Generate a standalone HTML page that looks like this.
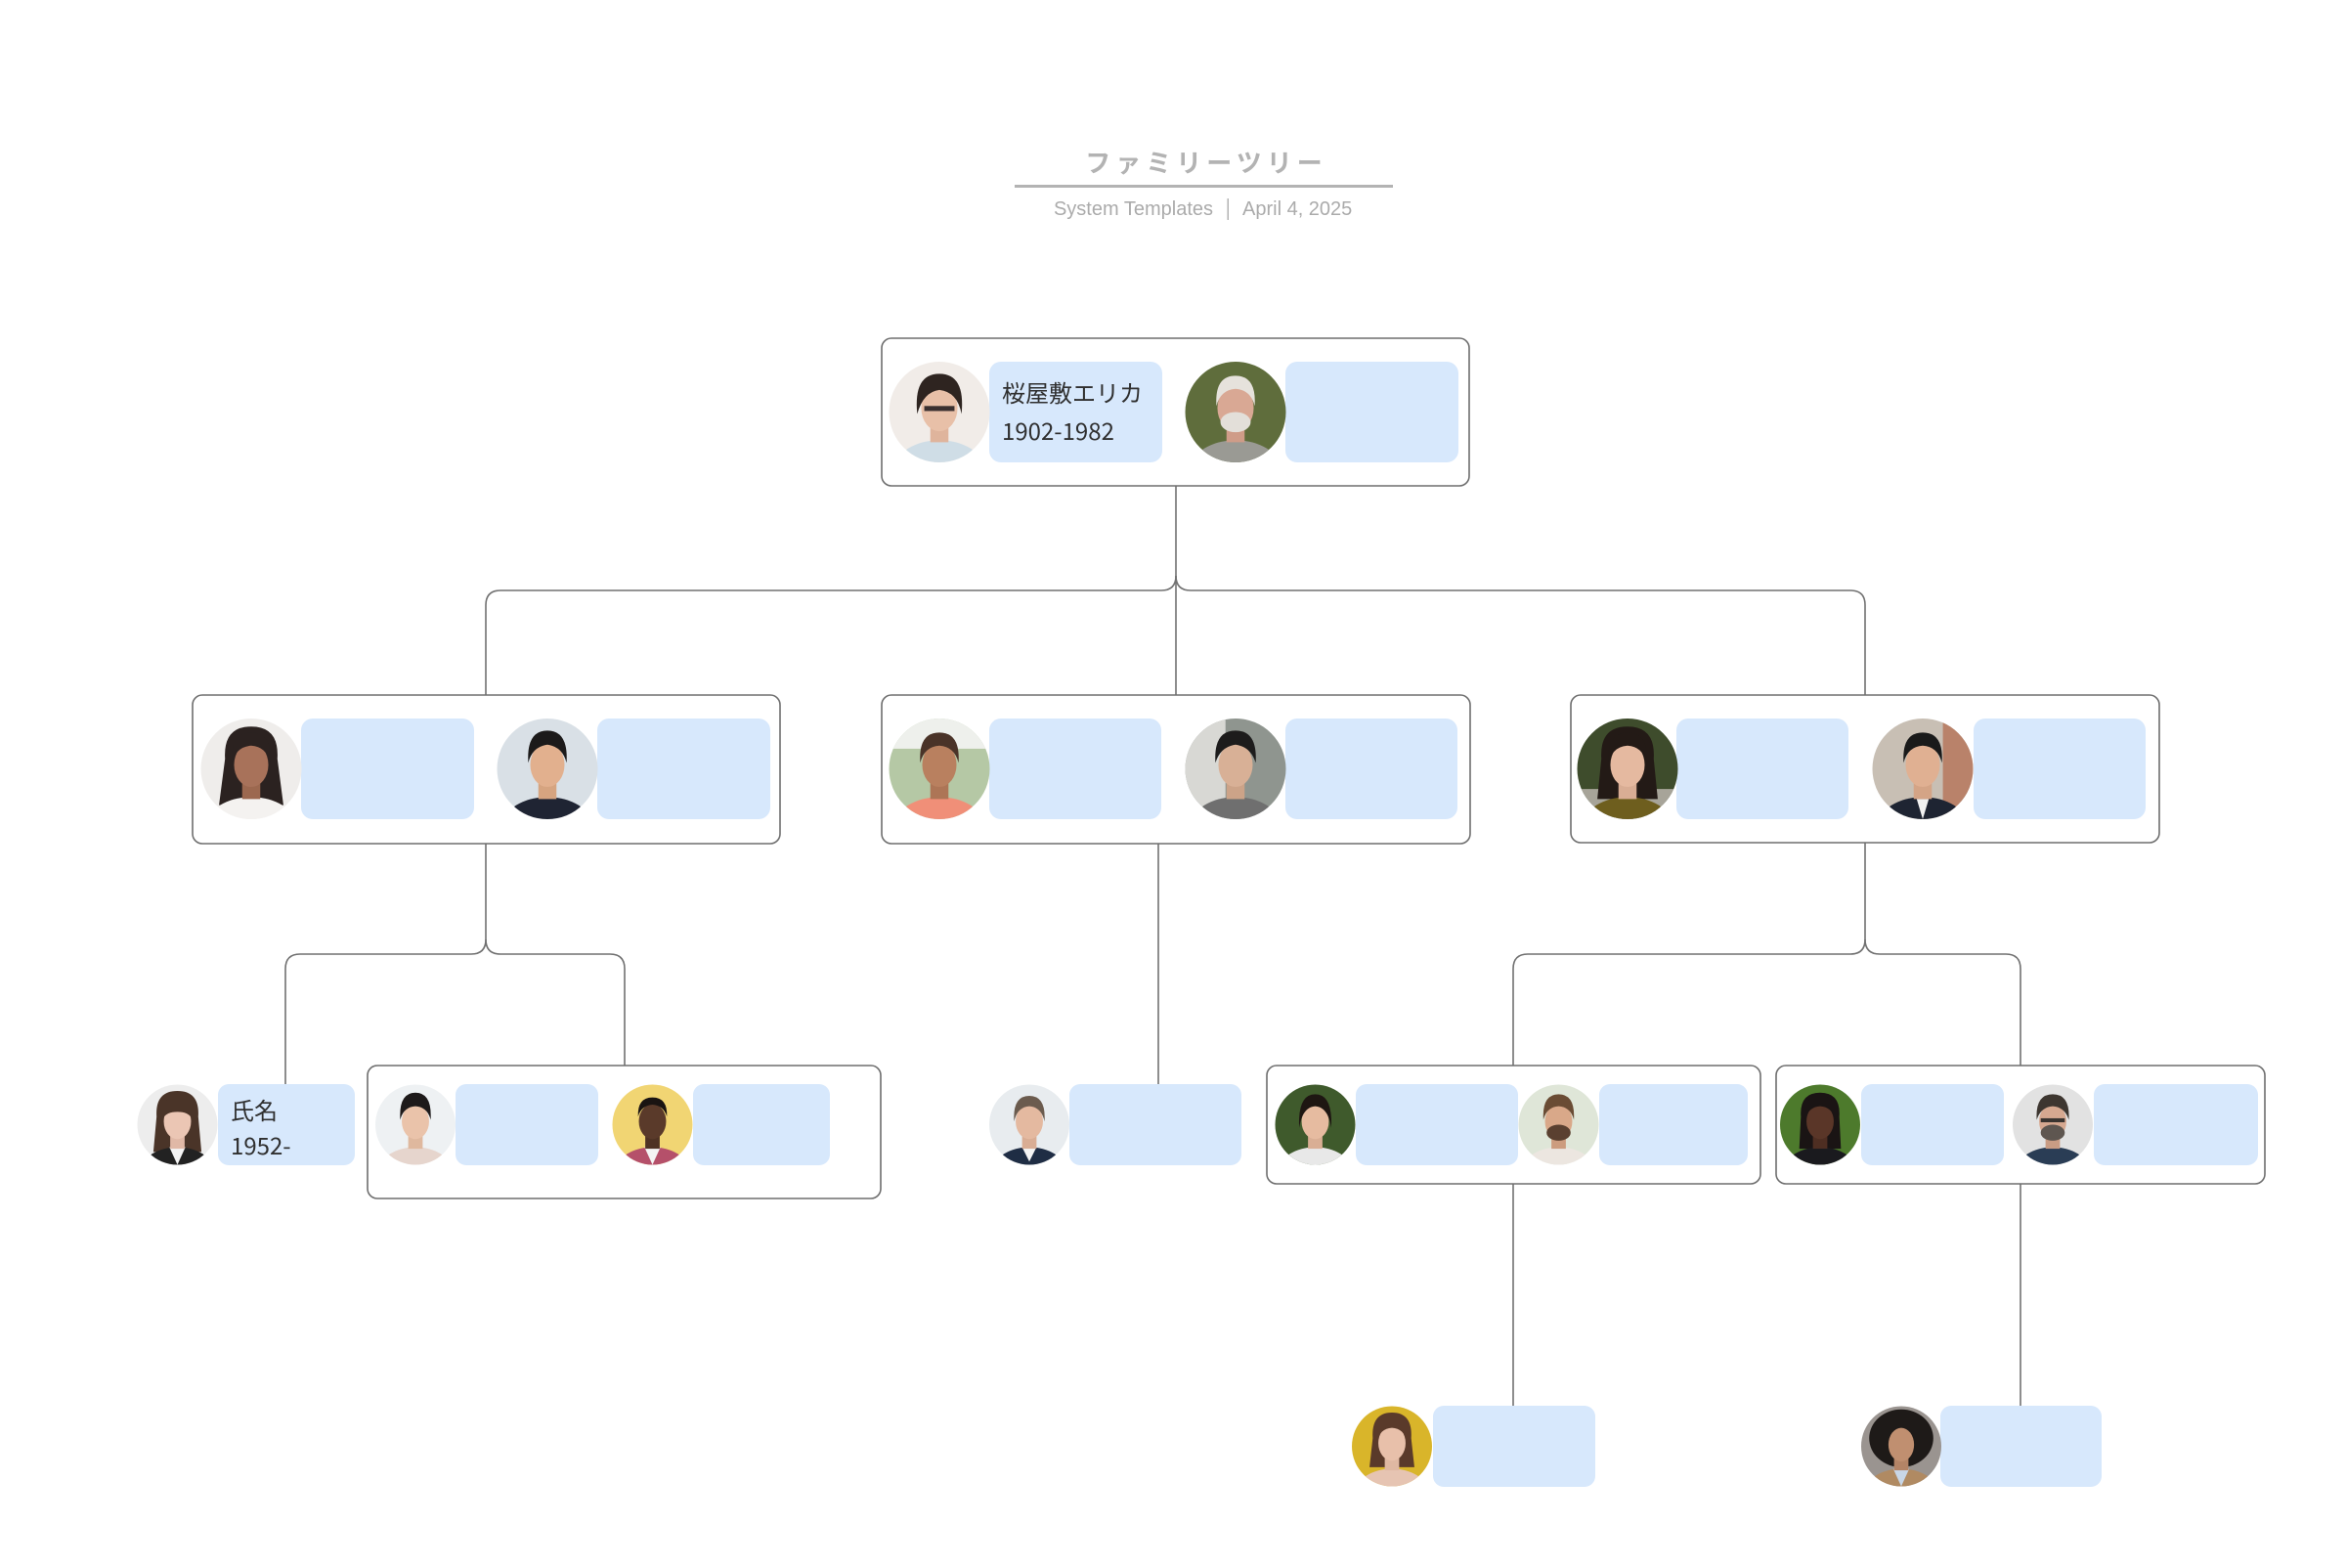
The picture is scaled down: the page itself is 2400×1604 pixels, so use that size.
<!DOCTYPE html>
<html>
<head>
<meta charset="utf-8">
<style>
html,body{margin:0;padding:0;background:#fff;}
svg{display:block;}
</style>
</head>
<body>
<svg width="2400" height="1604" viewBox="0 0 2400 1604" xmlns="http://www.w3.org/2000/svg">
<defs>
<clipPath id="cc" clipPathUnits="userSpaceOnUse"><circle cx="0" cy="0" r="50"/></clipPath>
</defs>
<rect width="2400" height="1604" fill="#fff"/>

<!-- Title -->
<text x="1234" y="176" text-anchor="middle" font-family="'Liberation Sans','Noto Sans CJK JP',sans-serif" font-size="26" font-weight="bold" fill="#b3b3b3" letter-spacing="5">ファミリーツリー</text>
<rect x="1038" y="189" width="387" height="3" fill="#b3b3b3"/>
<text x="1241" y="220" text-anchor="end" font-family="'Liberation Sans',sans-serif" font-size="20" fill="#ababab">System Templates</text>
<rect x="1255.5" y="203" width="1.5" height="22" fill="#b3b3b3"/>
<text x="1271" y="220" font-family="'Liberation Sans',sans-serif" font-size="20" fill="#ababab">April 4, 2025</text>

<!-- Connectors -->
<g fill="none" stroke="#717171" stroke-width="1.6">
<path d="M1203 497 V711"/>
<path d="M1203 589 Q1203 604 1188 604 H512 Q497 604 497 619 V711"/>
<path d="M1203 589 Q1203 604 1218 604 H1893 Q1908 604 1908 619 V711"/>
<path d="M497 863 V961 Q497 976 482 976 H307 Q292 976 292 991 V1109"/>
<path d="M497 961 Q497 976 512 976 H624 Q639 976 639 991 V1090"/>
<path d="M1185 863 V1109"/>
<path d="M1908 862 V961 Q1908 976 1893 976 H1563 Q1548 976 1548 991 V1090"/>
<path d="M1908 961 Q1908 976 1923 976 H2052 Q2067 976 2067 991 V1090"/>
<path d="M1548 1211 V1438"/>
<path d="M2067 1211 V1438"/>
</g>

<!-- Boxes -->
<g fill="#fff" stroke="#6e6e6e" stroke-width="1.6">
<rect x="902" y="346" width="601" height="151" rx="10"/>
<rect x="197" y="711" width="601" height="152" rx="10"/>
<rect x="902" y="711" width="602" height="152" rx="10"/>
<rect x="1607" y="711" width="602" height="151" rx="10"/>
<rect x="376" y="1090" width="525" height="136" rx="10"/>
<rect x="1296" y="1090" width="505" height="121" rx="10"/>
<rect x="1817" y="1090" width="500" height="121" rx="10"/>
</g>

<!-- Blue name rects -->
<g fill="#d7e8fc">
<rect x="1012" y="370" width="177" height="103" rx="12"/>
<rect x="1315" y="370" width="177" height="103" rx="12"/>
<rect x="308" y="735" width="177" height="103" rx="12"/>
<rect x="611" y="735" width="177" height="103" rx="12"/>
<rect x="1012" y="735" width="176" height="103" rx="12"/>
<rect x="1315" y="735" width="176" height="103" rx="12"/>
<rect x="1715" y="735" width="176" height="103" rx="12"/>
<rect x="2019" y="735" width="176" height="103" rx="12"/>
<rect x="223" y="1109" width="140" height="83" rx="11"/>
<rect x="466" y="1109" width="146" height="83" rx="11"/>
<rect x="709" y="1109" width="140" height="83" rx="11"/>
<rect x="1094" y="1109" width="176" height="83" rx="11"/>
<rect x="1387" y="1109" width="166" height="83" rx="11"/>
<rect x="1636" y="1109" width="152" height="83" rx="11"/>
<rect x="1904" y="1109" width="146" height="83" rx="11"/>
<rect x="2142" y="1109" width="168" height="83" rx="11"/>
<rect x="1466" y="1438" width="166" height="83" rx="11"/>
<rect x="1985" y="1438" width="165" height="83" rx="11"/>
</g>

<!-- Texts -->
<g font-family="'Liberation Sans','Noto Sans CJK JP',sans-serif" font-size="24" fill="#2f2f2f">
<text x="1025" y="411" font-family="'Noto Sans CJK JP',sans-serif">桜屋敷エリカ</text>
<text x="1025" y="450" font-family="'Noto Sans CJK JP',sans-serif">1902-1982</text>
<text x="236" y="1145" font-family="'Noto Sans CJK JP',sans-serif">氏名</text>
<text x="236" y="1181" font-family="'Noto Sans CJK JP',sans-serif">1952-</text>
</g>

<!-- Avatars -->
<g transform="translate(961 421.5) scale(1.03)"><g clip-path="url(#cc)">
<rect x="-50" y="-50" width="100" height="100" fill="#f1ece8"/>
<ellipse cx="0" cy="56" rx="44" ry="28" fill="#cfdde6"/>
<rect x="-9" y="8" width="18" height="22" fill="#dfb49c"/>
<ellipse cx="0" cy="-4" rx="18" ry="23" fill="#e8c0a8"/>
<path d="M-22 2 Q-26 -38 0 -38 Q26 -38 22 2 Q18 -20 0 -22 Q-16 -20 -22 2Z" fill="#2e2420"/>
<rect x="-15" y="-6" width="30" height="5" fill="#3a3030"/>
</g></g>
<g transform="translate(1264 421.5) scale(1.03)"><g clip-path="url(#cc)">
<rect x="-50" y="-50" width="100" height="100" fill="#5f6d3c"/>
<ellipse cx="0" cy="56" rx="44" ry="28" fill="#9a9a94"/>
<rect x="-9" y="8" width="18" height="22" fill="#cf9c88"/>
<ellipse cx="0" cy="-4" rx="18" ry="23" fill="#d9a894"/>
<ellipse cx="0" cy="10" rx="15" ry="10" fill="#e3dfd9"/>
<path d="M-19 -6 Q-21 -36 0 -36 Q21 -36 19 -6 Q15 -22 0 -23 Q-15 -22 -19 -6Z" fill="#e6e2dc"/>
</g></g>
<g transform="translate(257 786.5) scale(1.03)"><g clip-path="url(#cc)">
<rect x="-50" y="-50" width="100" height="100" fill="#efedeb"/>
<path d="M-26 -10 Q-28 -42 0 -42 Q28 -42 26 -10 L32 36 L-32 36Z" fill="#2b2220"/>
<ellipse cx="0" cy="56" rx="44" ry="28" fill="#f4f2f0"/>
<rect x="-9" y="8" width="18" height="22" fill="#9c684f"/>
<ellipse cx="0" cy="-4" rx="17" ry="22" fill="#a8725a"/>
<path d="M-19 -6 Q-21 -36 0 -36 Q21 -36 19 -6 Q15 -22 0 -23 Q-15 -22 -19 -6Z" fill="#2b2220"/>
</g></g>
<g transform="translate(560 786.5) scale(1.03)"><g clip-path="url(#cc)">
<rect x="-50" y="-50" width="100" height="100" fill="#d9e0e6"/>
<ellipse cx="0" cy="56" rx="44" ry="28" fill="#1f2433"/>
<rect x="-9" y="8" width="18" height="22" fill="#d6a480"/>
<ellipse cx="0" cy="-4" rx="17" ry="22" fill="#e2b08e"/>
<path d="M-19 -6 Q-21 -38 0 -38 Q21 -38 19 -6 Q15 -22 0 -24 Q-15 -22 -19 -6Z" fill="#1c1a1a"/>
</g></g>
<g transform="translate(961 786.5) scale(1.03)"><g clip-path="url(#cc)">
<rect x="-50" y="-50" width="100" height="100" fill="#b5c8a5"/>
<rect x="-50" y="-50" width="100" height="30" fill="#eef0ec"/>
<ellipse cx="0" cy="56" rx="44" ry="28" fill="#f08f78"/>
<rect x="-9" y="8" width="18" height="22" fill="#ad7556"/>
<ellipse cx="0" cy="-4" rx="17" ry="22" fill="#b9805f"/>
<path d="M-19 -6 Q-21 -36 0 -36 Q21 -36 19 -6 Q15 -22 0 -23 Q-15 -22 -19 -6Z" fill="#4a3328"/>
</g></g>
<g transform="translate(1264 786.5) scale(1.03)"><g clip-path="url(#cc)">
<rect x="-50" y="-50" width="100" height="100" fill="#8f958f"/>
<rect x="-50" y="-50" width="40" height="100" fill="#d8d8d4"/>
<ellipse cx="0" cy="56" rx="44" ry="28" fill="#6f6f6f"/>
<rect x="-9" y="8" width="18" height="22" fill="#cca388"/>
<ellipse cx="0" cy="-4" rx="17" ry="22" fill="#d8b096"/>
<path d="M-20 -6 Q-22 -38 0 -38 Q22 -38 20 -6 Q15 -22 0 -24 Q-15 -22 -20 -6Z" fill="#1d1c1c"/>
</g></g>
<g transform="translate(1665 786.5) scale(1.03)"><g clip-path="url(#cc)">
<rect x="-50" y="-50" width="100" height="100" fill="#3e4c2c"/>
<rect x="-50" y="20" width="100" height="30" fill="#a7a499"/>
<path d="M-26 -10 Q-28 -42 0 -42 Q28 -42 26 -10 L30 30 L-30 30Z" fill="#231a16"/>
<ellipse cx="0" cy="56" rx="44" ry="28" fill="#6e5e1e"/>
<rect x="-9" y="8" width="18" height="22" fill="#d9ad94"/>
<ellipse cx="0" cy="-4" rx="17" ry="22" fill="#e5b9a0"/>
<path d="M-19 -6 Q-21 -36 0 -36 Q21 -36 19 -6 Q15 -22 0 -23 Q-15 -22 -19 -6Z" fill="#231a16"/>
</g></g>
<g transform="translate(1967 786.5) scale(1.03)"><g clip-path="url(#cc)">
<rect x="-50" y="-50" width="100" height="100" fill="#c8bfb4"/>
<rect x="20" y="-50" width="30" height="100" fill="#b9826a"/>
<ellipse cx="0" cy="56" rx="44" ry="28" fill="#1e2432"/>
<path d="M-6 30 L0 50 L6 30Z" fill="#f2f2f2"/>
<rect x="-9" y="8" width="18" height="22" fill="#d4a486"/>
<ellipse cx="0" cy="-4" rx="17" ry="22" fill="#e0b092"/>
<path d="M-19 -6 Q-21 -36 0 -36 Q21 -36 19 -6 Q15 -22 0 -23 Q-15 -22 -19 -6Z" fill="#1a1a1a"/>
</g></g>
<g transform="translate(181.5 1150.5) scale(0.82)"><g clip-path="url(#cc)">
<rect x="-50" y="-50" width="100" height="100" fill="#ededed"/>
<path d="M-26 -10 Q-28 -42 0 -42 Q28 -42 26 -10 L30 34 L-30 34Z" fill="#4a3428"/>
<ellipse cx="0" cy="56" rx="44" ry="28" fill="#222"/>
<path d="M-10 28 L0 50 L10 28Z" fill="#f4f4f4"/>
<rect x="-9" y="8" width="18" height="22" fill="#e0b8a6"/>
<ellipse cx="0" cy="-4" rx="17" ry="22" fill="#ebc6b4"/>
<path d="M-19 -6 Q-21 -36 0 -36 Q21 -36 19 -6 Q15 -16 0 -16 Q-15 -16 -19 -6Z" fill="#4a3428"/>
</g></g>
<g transform="translate(425 1150.5) scale(0.82)"><g clip-path="url(#cc)">
<rect x="-50" y="-50" width="100" height="100" fill="#eef1f3"/>
<ellipse cx="0" cy="56" rx="44" ry="28" fill="#e6d5cd"/>
<rect x="-9" y="8" width="18" height="22" fill="#dfb89e"/>
<ellipse cx="0" cy="-4" rx="17" ry="22" fill="#eac3aa"/>
<path d="M-19 -6 Q-21 -40 0 -40 Q21 -40 19 -6 Q15 -22 0 -23 Q-15 -22 -19 -6Z" fill="#1e1a1a"/>
</g></g>
<g transform="translate(667.5 1150.5) scale(0.82)"><g clip-path="url(#cc)">
<rect x="-50" y="-50" width="100" height="100" fill="#f1d573"/>
<ellipse cx="0" cy="56" rx="44" ry="28" fill="#b5506a"/>
<path d="M-10 28 L0 50 L10 28Z" fill="#f4f4f4"/>
<rect x="-9" y="8" width="18" height="22" fill="#4e3224"/>
<ellipse cx="0" cy="-4" rx="17" ry="22" fill="#5a3a2a"/>
<path d="M-18 -10 Q-19 -34 0 -34 Q19 -34 18 -10 Q14 -24 0 -25 Q-14 -24 -18 -10Z" fill="#1a1412"/>
</g></g>
<g transform="translate(1053 1150.5) scale(0.82)"><g clip-path="url(#cc)">
<rect x="-50" y="-50" width="100" height="100" fill="#e8ecef"/>
<ellipse cx="0" cy="56" rx="44" ry="28" fill="#1f2d44"/>
<path d="M-10 26 L0 46 L10 26Z" fill="#f4f4f4"/>
<rect x="-9" y="8" width="18" height="22" fill="#d9ad94"/>
<ellipse cx="0" cy="-4" rx="17" ry="22" fill="#e4b9a0"/>
<path d="M-19 -4 Q-21 -36 0 -36 Q21 -36 19 -4 Q15 -22 0 -23 Q-15 -22 -19 -4Z" fill="#6b5b4e"/>
</g></g>
<g transform="translate(1345.5 1150.5) scale(0.82)"><g clip-path="url(#cc)">
<rect x="-50" y="-50" width="100" height="100" fill="#3f5a2c"/>
<ellipse cx="0" cy="56" rx="44" ry="28" fill="#e8e8e8"/>
<rect x="-9" y="8" width="18" height="22" fill="#d9ae94"/>
<ellipse cx="0" cy="-4" rx="17" ry="22" fill="#e6bba0"/>
<path d="M-20 4 Q-22 -38 0 -38 Q22 -38 20 4 Q16 -22 0 -23 Q-16 -22 -20 4Z" fill="#1e1612"/>
</g></g>
<g transform="translate(1594.5 1150.5) scale(0.82)"><g clip-path="url(#cc)">
<rect x="-50" y="-50" width="100" height="100" fill="#dfe6d8"/>
<ellipse cx="0" cy="56" rx="44" ry="28" fill="#ece6e0"/>
<rect x="-9" y="8" width="18" height="22" fill="#cc9c7e"/>
<ellipse cx="0" cy="-4" rx="17" ry="22" fill="#d9a889"/>
<ellipse cx="0" cy="10" rx="15" ry="10" fill="#5a4030"/>
<path d="M-19 -6 Q-21 -38 0 -38 Q21 -38 19 -6 Q15 -22 0 -23 Q-15 -22 -19 -6Z" fill="#6a4c34"/>
</g></g>
<g transform="translate(1862 1150.5) scale(0.82)"><g clip-path="url(#cc)">
<rect x="-50" y="-50" width="100" height="100" fill="#4d7a2c"/>
<path d="M-24 -10 Q-26 -40 0 -40 Q26 -40 24 -10 L26 30 L-26 30Z" fill="#1a1414"/>
<ellipse cx="0" cy="56" rx="44" ry="28" fill="#1a1a1e"/>
<rect x="-9" y="8" width="18" height="22" fill="#4e2e22"/>
<ellipse cx="0" cy="-4" rx="17" ry="22" fill="#5a3628"/>
<path d="M-19 -6 Q-21 -36 0 -36 Q21 -36 19 -6 Q15 -22 0 -23 Q-15 -22 -19 -6Z" fill="#1a1414"/>
</g></g>
<g transform="translate(2100 1150.5) scale(0.82)"><g clip-path="url(#cc)">
<rect x="-50" y="-50" width="100" height="100" fill="#e2e2e2"/>
<ellipse cx="0" cy="56" rx="44" ry="28" fill="#2a3d55"/>
<rect x="-9" y="8" width="18" height="22" fill="#c99c84"/>
<ellipse cx="0" cy="-4" rx="17" ry="22" fill="#d6a890"/>
<ellipse cx="0" cy="10" rx="15" ry="10" fill="#5e5650"/>
<rect x="-15" y="-8" width="30" height="5" fill="#3a3430"/>
<path d="M-20 -6 Q-22 -38 0 -38 Q22 -38 20 -6 Q15 -22 0 -23 Q-15 -22 -20 -6Z" fill="#3d3630"/>
</g></g>
<g transform="translate(1424 1479.5) scale(0.82)"><g clip-path="url(#cc)">
<rect x="-50" y="-50" width="100" height="100" fill="#d9b52a"/>
<path d="M-24 -10 Q-26 -42 0 -42 Q26 -42 24 -10 L28 26 L-28 26Z" fill="#5a3a2a"/>
<ellipse cx="0" cy="56" rx="44" ry="28" fill="#e6c4b2"/>
<rect x="-9" y="8" width="18" height="22" fill="#dfb8a2"/>
<ellipse cx="0" cy="-4" rx="17" ry="22" fill="#e8c0aa"/>
<path d="M-19 -6 Q-21 -38 0 -38 Q21 -38 19 -6 Q15 -22 0 -23 Q-15 -22 -19 -6Z" fill="#5a3a2a"/>
</g></g>
<g transform="translate(1945 1479.5) scale(0.82)"><g clip-path="url(#cc)">
<rect x="-50" y="-50" width="100" height="100" fill="#9a9490"/>
<ellipse cx="0" cy="-10" rx="40" ry="36" fill="#1e1a18"/>
<ellipse cx="0" cy="56" rx="44" ry="28" fill="#b08a62"/>
<path d="M-10 28 L0 50 L10 28Z" fill="#c8d6e6"/>
<rect x="-9" y="8" width="18" height="22" fill="#b48466"/>
<ellipse cx="0" cy="-2" rx="16" ry="21" fill="#c08f70"/>
</g></g>
</svg>
</body>
</html>
